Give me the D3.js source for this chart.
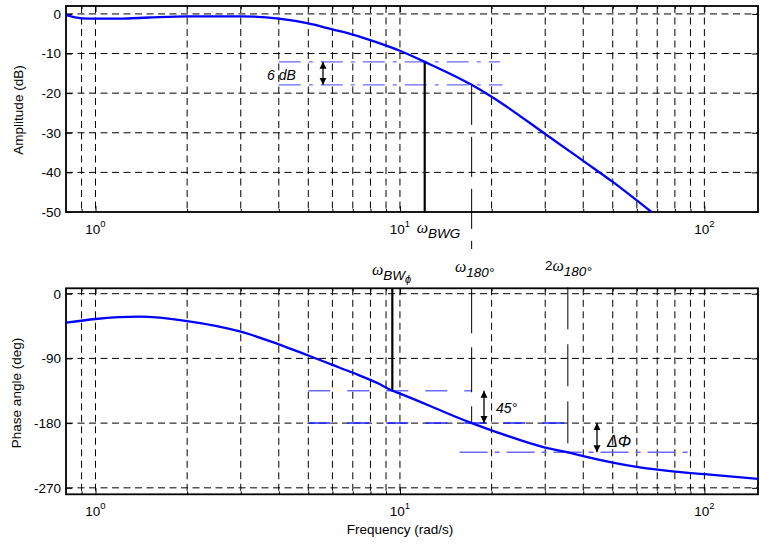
<!DOCTYPE html>
<html><head><meta charset="utf-8">
<script src="https://cdn.jsdelivr.net/npm/d3@7"></script>
<style>
body{margin:0;background:#fff;}
text{font-family:"Liberation Sans",Arial,sans-serif;}
</style></head>
<body><svg id="c" width="760" height="544"></svg>
<script>
// ---- data ----
const ampFreq = [0.8, 0.9, 1.0, 1.2, 1.5, 2, 3, 4, 5, 6, 7, 8.5, 10, 12.06, 17.2, 20, 30, 40, 50, 67];
const ampDb   = [-0.3, -1.1, -1.2, -1.2, -0.9, -0.6, -0.6, -1.2, -2.4, -3.9, -5.2, -7.3, -9.3, -12.1, -17.9, -20.9, -30.3, -37.1, -42.4, -50];
const phFreq  = [0.8, 1.0, 1.39, 2, 3, 4, 5, 6, 7, 8.5, 9.44, 10, 17.2, 20, 30, 35.6, 40, 50, 60, 80, 100, 150];
const phDeg   = [-40.3, -35.2, -32, -38, -52.8, -70.4, -86, -99, -110, -125, -135, -139, -180, -190, -214, -220.6, -226, -235, -241, -247.5, -251, -257.5];
const ampTicks = [0, -10, -20, -30, -40, -50];
const phTicks  = [0, -90, -180, -270];
const xMajor = [1, 10, 100];
const xMinor = [0.9, 2, 3, 4, 5, 6, 7, 8, 9, 20, 30, 40, 50, 60, 70, 80, 90];
const xMajorLabels = ["0", "1", "2"];
// annotation values
const wBWG = 12.06, dbBWG = -12.1, w180 = 17.2, db180 = -17.9;
const wBWphi = 9.44, ph135 = -135, ph180 = -180, w2x180 = 35.6, phDelta = -220.6;
const dbLineFrom = 4, dbLineTo = [21.3, 21.7];
const phLine135 = [5, 17.2], phLine180 = [5, 39], phLineDelta = [15.7, 90];

const svg = d3.select("#c");
const L = 66, R = 758;
const FS = 13.5;
const x = d3.scaleLog().domain([0.8, 150]).range([L, R]);
const yA = d3.scaleLinear().domain([-50, 2]).range([212, 6]);
const yP = d3.scaleLinear().domain([-279, 7.5]).range([494.3, 288.3]);

const defs = svg.append("defs");
[["cA", yA], ["cP", yP]].forEach(([id, ys]) => {
  defs.append("clipPath").attr("id", id).append("rect")
    .attr("x", L).attr("y", ys.range()[1]).attr("width", R - L).attr("height", ys.range()[0] - ys.range()[1]);
});
defs.append("marker").attr("id", "ah").attr("viewBox", "0 0 10 10").attr("refX", 10).attr("refY", 5)
  .attr("markerWidth", 7).attr("markerHeight", 8).attr("orient", "auto-start-reverse").attr("markerUnits", "userSpaceOnUse")
  .append("path").attr("d", "M0,0 L10,5 L0,10 Z").attr("fill", "#000");

function panel(ys, ticks, label, labelY) {
  const g = svg.append("g");
  const gv = xMajor.concat(xMinor);
  g.selectAll(".gv").data(gv).join("line")
    .attr("x1", d => x(d)).attr("x2", d => x(d)).attr("y1", ys.range()[1]).attr("y2", ys.range()[0])
    .attr("stroke", "#000").attr("stroke-width", 1).attr("stroke-dasharray", "7,4.5");
  g.selectAll(".gh").data(ticks.filter(t => t !== ys.domain()[0])).join("line")
    .attr("x1", L).attr("x2", R).attr("y1", d => ys(d)).attr("y2", d => ys(d))
    .attr("stroke", "#000").attr("stroke-width", 1).attr("stroke-dasharray", "7,4.5");
  const yb = ys.range()[0], yt = ys.range()[1];
  g.append("g").attr("transform", `translate(0,${yb})`)
    .call(d3.axisBottom(x).tickValues(xMinor).tickSize(-3).tickFormat(""))
    .call(a => a.select(".domain").remove());
  g.append("g").attr("transform", `translate(0,${yb})`)
    .call(d3.axisBottom(x).tickValues(xMajor).tickSize(-6).tickFormat(""))
    .call(a => a.select(".domain").remove());
  g.append("g").attr("transform", `translate(0,${yt})`)
    .call(d3.axisTop(x).tickValues(xMinor).tickSize(-3).tickFormat(""))
    .call(a => a.select(".domain").remove());
  g.append("g").attr("transform", `translate(0,${yt})`)
    .call(d3.axisTop(x).tickValues(xMajor).tickSize(-6).tickFormat(""))
    .call(a => a.select(".domain").remove());
  g.append("g").attr("transform", `translate(${L},0)`)
    .call(d3.axisLeft(ys).tickValues(ticks).tickSize(-6).tickPadding(5).tickFormat(d => d))
    .call(a => a.select(".domain").remove())
    .call(a => a.selectAll("text").attr("font-size", FS).attr("fill", "#000").attr("font-family", "Liberation Sans"));
  g.append("g").attr("transform", `translate(${R},0)`)
    .call(d3.axisRight(ys).tickValues(ticks).tickSize(-6).tickFormat(""))
    .call(a => a.select(".domain").remove());
  g.append("rect").attr("x", L).attr("y", yt).attr("width", R - L).attr("height", yb - yt)
    .attr("fill", "none").attr("stroke", "#000").attr("stroke-width", 1.8);
  const tl = g.selectAll(".xl").data(xMajor).join("text")
    .attr("x", d => x(d)).attr("y", yb + 22).attr("text-anchor", "middle").attr("font-size", FS);
  tl.append("tspan").text("10");
  tl.append("tspan").attr("dy", -7).attr("font-size", 9.5).text((d, i) => xMajorLabels[i]);
  svg.append("text").attr("transform", `translate(${labelY[0]},${labelY[1]}) rotate(-90)`)
    .attr("text-anchor", "middle").attr("font-size", FS).text(label);
  return g;
}
panel(yA, ampTicks, "Amplitude (dB)", [23, 110]);
panel(yP, phTicks, "Phase angle (deg)", [21, 393]);

// ---- top annotations ----
const lightBlue = "#6a6aff";
dbLineTo.forEach((to, i) => {
  const lv = i === 0 ? dbBWG : db180;
  svg.append("line").attr("x1", x(dbLineFrom)).attr("x2", x(to)).attr("y1", yA(lv)).attr("y2", yA(lv))
    .attr("stroke", lightBlue).attr("stroke-width", 1.4).attr("stroke-dasharray", "22,8,4,8");
});
svg.append("line").attr("x1", x(wBWG)).attr("x2", x(wBWG)).attr("y1", yA(dbBWG)).attr("y2", yA(-50))
  .attr("stroke", "#000").attr("stroke-width", 2.2);
svg.append("line").attr("x1", x(w180)).attr("x2", x(w180)).attr("y1", yA(db180)).attr("y2", 249)
  .attr("stroke", "#000").attr("stroke-width", 1).attr("stroke-dasharray", "40,12");
svg.append("line").attr("x1", 323).attr("x2", 323).attr("y1", yA(dbBWG)).attr("y2", yA(db180))
  .attr("stroke", "#000").attr("stroke-width", 1.3)
  .attr("marker-start", "url(#ah)").attr("marker-end", "url(#ah)");
svg.append("text").attr("x", 267).attr("y", 80).attr("font-size", 14).attr("font-style", "italic").text("6 dB");

const lineA = d3.line().x(d => x(d[0])).y(d => yA(d[1])).curve(d3.curveMonotoneX);
svg.append("path").datum(ampFreq.map((f, i) => [f, ampDb[i]])).attr("d", lineA)
  .attr("clip-path", "url(#cA)").attr("fill", "none").attr("stroke", "#0000ff").attr("stroke-width", 2.3);

const tB = svg.append("text").attr("x", x(wBWG) - 8).attr("y", 233);
tB.append("tspan").attr("font-family", "Liberation Serif").attr("font-style", "italic").attr("font-size", 16).text("ω");
tB.append("tspan").attr("dy", 5).attr("font-style", "italic").attr("font-size", FS).text("BWG");

// ---- bottom annotations ----
svg.append("line").attr("x1", x(phLine135[0])).attr("x2", x(phLine135[1])).attr("y1", yP(ph135)).attr("y2", yP(ph135))
  .attr("stroke", lightBlue).attr("stroke-width", 1.4).attr("stroke-dasharray", "22,17");
svg.append("line").attr("x1", x(phLine180[0])).attr("x2", x(phLine180[1])).attr("y1", yP(ph180)).attr("y2", yP(ph180))
  .attr("stroke", "#2020ff").attr("stroke-width", 1.5).attr("stroke-dasharray", "22,17");
svg.append("line").attr("x1", x(phLineDelta[0])).attr("x2", x(phLineDelta[1])).attr("y1", yP(phDelta)).attr("y2", yP(phDelta))
  .attr("stroke", lightBlue).attr("stroke-width", 1.4).attr("stroke-dasharray", "28,7,5,7");
svg.append("line").attr("x1", x(wBWphi)).attr("x2", x(wBWphi)).attr("y1", yP.range()[1]).attr("y2", yP(ph135))
  .attr("stroke", "#000").attr("stroke-width", 2.2);
svg.append("line").attr("x1", x(w180)).attr("x2", x(w180)).attr("y1", yP.range()[1]).attr("y2", yP(ph180))
  .attr("stroke", "#000").attr("stroke-width", 1).attr("stroke-dasharray", "45,14");
svg.append("line").attr("x1", x(w2x180)).attr("x2", x(w2x180)).attr("y1", yP.range()[1] - 1).attr("y2", yP(phDelta))
  .attr("stroke", "#000").attr("stroke-width", 1).attr("stroke-dasharray", "42,15");
svg.append("line").attr("x1", 484).attr("x2", 484).attr("y1", yP(ph135)).attr("y2", yP(ph180))
  .attr("stroke", "#000").attr("stroke-width", 1.3).attr("marker-start", "url(#ah)").attr("marker-end", "url(#ah)");
svg.append("line").attr("x1", 597).attr("x2", 597).attr("y1", yP(ph180)).attr("y2", yP(phDelta))
  .attr("stroke", "#000").attr("stroke-width", 1.3).attr("marker-start", "url(#ah)").attr("marker-end", "url(#ah)");
svg.append("text").attr("x", 496).attr("y", 413).attr("font-size", 14).attr("font-style", "italic").text("45°");
svg.append("text").attr("x", 607).attr("y", 447).attr("font-size", 16).attr("font-style", "italic")
  .attr("font-family", "Liberation Serif").text("ΔΦ");

const lineP = d3.line().x(d => x(d[0])).y(d => yP(d[1])).curve(d3.curveMonotoneX);
svg.append("path").datum(phFreq.map((f, i) => [f, phDeg[i]])).attr("d", lineP)
  .attr("clip-path", "url(#cP)").attr("fill", "none").attr("stroke", "#0000ff").attr("stroke-width", 2.3);

function omegaLabel(xp, yb, pre, sub, subsub) {
  const t = svg.append("text").attr("x", xp).attr("y", yb);
  if (pre) t.append("tspan").attr("font-size", FS).attr("dy", -1).text(pre);
  t.append("tspan").attr("font-family", "Liberation Serif").attr("font-style", "italic").attr("font-size", 16)
    .attr("dy", pre ? 1 : 0).text("ω");
  t.append("tspan").attr("dy", 5).attr("font-style", "italic").attr("font-size", FS).text(sub);
  if (subsub) t.append("tspan").attr("dy", 3).attr("font-style", "italic").attr("font-size", 11).text(subsub);
}
omegaLabel(372, 275, null, "BW", "ϕ");
omegaLabel(455, 272, null, "180°", null);
omegaLabel(545, 271, "2", "180°", null);

svg.append("text").attr("x", 400).attr("y", 534).attr("text-anchor", "middle").attr("font-size", FS).text("Frequency (rad/s)");
</script></body></html>
